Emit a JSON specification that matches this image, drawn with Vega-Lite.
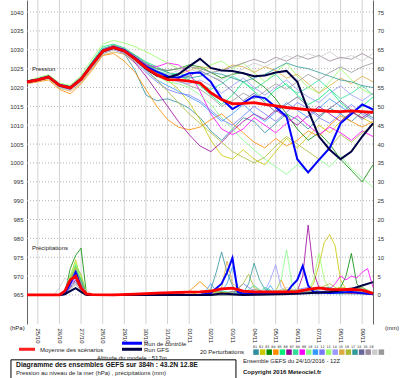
{
"$schema":"https://vega.github.io/schema/vega-lite/v6.json",
"width":346,"height":324,
"autosize":{"type":"none"},
"padding":{"left":27,"top":0,"right":27,"bottom":54},
"background":"white",
"config":{"view":{"stroke":null},"font":"Liberation Sans","text":{"font":"Liberation Sans"},
"axisX":{"labelAngle":90,"labelAlign":"left","labelBaseline":"middle","labelFontSize":6,"labelColor":"#222","labelPadding":4,"labelOverlap":false,"labelBound":false,"labelFlush":false,"ticks":false,"domain":false,"grid":false,"title":null},
"axisY":{"labelFontSize":6,"labelColor":"#333","labelPadding":4,"labelOverlap":false,"labelBound":false,"labelFlush":false,"ticks":false,"domain":true,"domainColor":"#666","title":null,"grid":false}},
"datasets":{
"gx":[{"g":12},{"g":36},{"g":60},{"g":84},{"g":108},{"g":132},{"g":156},{"g":180},{"g":204},{"g":228},{"g":252},{"g":276},{"g":300},{"g":324},{"g":348},{"g":372}],
"gy":[{"v":965},{"v":970},{"v":975},{"v":980},{"v":985},{"v":990},{"v":995},{"v":1000},{"v":1005},{"v":1010},{"v":1015},{"v":1020},{"v":1025},{"v":1030},{"v":1035},{"v":1040}],
"pres":[
{"s":"01","h":0,"p":1021.2},{"s":"01","h":12,"p":1022.3},{"s":"01","h":24,"p":1022.5},{"s":"01","h":36,"p":1020.0},{"s":"01","h":48,"p":1019.5},{"s":"01","h":60,"p":1022.5},{"s":"01","h":72,"p":1026.5},{"s":"01","h":84,"p":1030.0},{"s":"01","h":96,"p":1031.0},{"s":"01","h":108,"p":1029.0},{"s":"01","h":120,"p":1024.5},{"s":"01","h":132,"p":1018.0},{"s":"01","h":144,"p":1016.5},{"s":"01","h":156,"p":1017.0},{"s":"01","h":168,"p":1016.0},{"s":"01","h":180,"p":1014.5},{"s":"01","h":192,"p":1012.0},{"s":"01","h":204,"p":1008.5},{"s":"01","h":216,"p":1006.0},{"s":"01","h":228,"p":1009.0},{"s":"01","h":240,"p":1012.0},{"s":"01","h":252,"p":1011.0},{"s":"01","h":264,"p":1008.0},{"s":"01","h":276,"p":1010.5},{"s":"01","h":288,"p":1013.0},{"s":"01","h":300,"p":1011.5},{"s":"01","h":312,"p":1009.0},{"s":"01","h":324,"p":1012.0},{"s":"01","h":336,"p":1014.5},{"s":"01","h":348,"p":1013.0},{"s":"01","h":360,"p":1011.0},{"s":"01","h":372,"p":1013.5},{"s":"01","h":384,"p":1012.0},
{"s":"02","h":0,"p":1021.8},{"s":"02","h":12,"p":1021.7},{"s":"02","h":24,"p":1022.6},{"s":"02","h":36,"p":1020.9},{"s":"02","h":48,"p":1020.3},{"s":"02","h":60,"p":1021.8},{"s":"02","h":72,"p":1025.4},{"s":"02","h":84,"p":1029.0},{"s":"02","h":96,"p":1030.0},{"s":"02","h":108,"p":1029.5},{"s":"02","h":120,"p":1027.9},{"s":"02","h":132,"p":1026.0},{"s":"02","h":144,"p":1024.0},{"s":"02","h":156,"p":1022.0},{"s":"02","h":168,"p":1019.5},{"s":"02","h":180,"p":1016.0},{"s":"02","h":192,"p":1011.5},{"s":"02","h":204,"p":1006.0},{"s":"02","h":216,"p":1002.0},{"s":"02","h":228,"p":1001.0},{"s":"02","h":240,"p":1003.5},{"s":"02","h":252,"p":1001.0},{"s":"02","h":264,"p":999.5},{"s":"02","h":276,"p":1003.0},{"s":"02","h":288,"p":1006.5},{"s":"02","h":300,"p":1004.0},{"s":"02","h":312,"p":1007.0},{"s":"02","h":324,"p":1010.0},{"s":"02","h":336,"p":1008.0},{"s":"02","h":348,"p":1011.0},{"s":"02","h":360,"p":1013.5},{"s":"02","h":372,"p":1012.0},{"s":"02","h":384,"p":1010.5},
{"s":"03","h":0,"p":1021.4},{"s":"03","h":12,"p":1022.1},{"s":"03","h":24,"p":1023.0},{"s":"03","h":36,"p":1020.4},{"s":"03","h":48,"p":1019.7},{"s":"03","h":60,"p":1022.0},{"s":"03","h":72,"p":1026.2},{"s":"03","h":84,"p":1030.2},{"s":"03","h":96,"p":1031.2},{"s":"03","h":108,"p":1030.0},{"s":"03","h":120,"p":1028.0},{"s":"03","h":132,"p":1026.0},{"s":"03","h":144,"p":1025.0},{"s":"03","h":156,"p":1024.5},{"s":"03","h":168,"p":1025.0},{"s":"03","h":180,"p":1026.0},{"s":"03","h":192,"p":1025.5},{"s":"03","h":204,"p":1024.0},{"s":"03","h":216,"p":1022.5},{"s":"03","h":228,"p":1023.5},{"s":"03","h":240,"p":1024.0},{"s":"03","h":252,"p":1022.0},{"s":"03","h":264,"p":1020.0},{"s":"03","h":276,"p":1017.0},{"s":"03","h":288,"p":1013.0},{"s":"03","h":300,"p":1009.0},{"s":"03","h":312,"p":1006.0},{"s":"03","h":324,"p":1008.0},{"s":"03","h":336,"p":1005.0},{"s":"03","h":348,"p":1001.0},{"s":"03","h":360,"p":998.0},{"s":"03","h":372,"p":995.0},{"s":"03","h":384,"p":999.5},
{"s":"04","h":0,"p":1021.0},{"s":"04","h":12,"p":1021.5},{"s":"04","h":24,"p":1022.0},{"s":"04","h":36,"p":1019.5},{"s":"04","h":48,"p":1018.3},{"s":"04","h":60,"p":1021.0},{"s":"04","h":72,"p":1024.5},{"s":"04","h":84,"p":1028.5},{"s":"04","h":96,"p":1029.0},{"s":"04","h":108,"p":1027.0},{"s":"04","h":120,"p":1024.0},{"s":"04","h":132,"p":1019.5},{"s":"04","h":144,"p":1015.0},{"s":"04","h":156,"p":1011.5},{"s":"04","h":168,"p":1009.5},{"s":"04","h":180,"p":1008.8},{"s":"04","h":192,"p":1009.5},{"s":"04","h":204,"p":1011.5},{"s":"04","h":216,"p":1013.0},{"s":"04","h":228,"p":1010.5},{"s":"04","h":240,"p":1008.0},{"s":"04","h":252,"p":1005.5},{"s":"04","h":264,"p":1004.0},{"s":"04","h":276,"p":1006.5},{"s":"04","h":288,"p":1004.5},{"s":"04","h":300,"p":1006.0},{"s":"04","h":312,"p":1008.5},{"s":"04","h":324,"p":1007.0},{"s":"04","h":336,"p":1010.0},{"s":"04","h":348,"p":1012.5},{"s":"04","h":360,"p":1011.0},{"s":"04","h":372,"p":1009.5},{"s":"04","h":384,"p":1011.0},
{"s":"05","h":0,"p":1021.6},{"s":"05","h":12,"p":1022.4},{"s":"05","h":24,"p":1023.2},{"s":"05","h":36,"p":1020.8},{"s":"05","h":48,"p":1020.2},{"s":"05","h":60,"p":1022.6},{"s":"05","h":72,"p":1026.8},{"s":"05","h":84,"p":1030.8},{"s":"05","h":96,"p":1031.5},{"s":"05","h":108,"p":1030.5},{"s":"05","h":120,"p":1028.6},{"s":"05","h":132,"p":1026.8},{"s":"05","h":144,"p":1025.5},{"s":"05","h":156,"p":1024.0},{"s":"05","h":168,"p":1023.0},{"s":"05","h":180,"p":1022.0},{"s":"05","h":192,"p":1020.5},{"s":"05","h":204,"p":1018.0},{"s":"05","h":216,"p":1015.5},{"s":"05","h":228,"p":1018.0},{"s":"05","h":240,"p":1021.5},{"s":"05","h":252,"p":1019.0},{"s":"05","h":264,"p":1016.5},{"s":"05","h":276,"p":1019.5},{"s":"05","h":288,"p":1021.0},{"s":"05","h":300,"p":1018.0},{"s":"05","h":312,"p":1015.5},{"s":"05","h":324,"p":1017.0},{"s":"05","h":336,"p":1019.5},{"s":"05","h":348,"p":1016.0},{"s":"05","h":360,"p":1013.5},{"s":"05","h":372,"p":1015.0},{"s":"05","h":384,"p":1017.5},
{"s":"06","h":0,"p":1021.3},{"s":"06","h":12,"p":1021.9},{"s":"06","h":24,"p":1022.7},{"s":"06","h":36,"p":1020.5},{"s":"06","h":48,"p":1019.8},{"s":"06","h":60,"p":1022.0},{"s":"06","h":72,"p":1025.8},{"s":"06","h":84,"p":1029.5},{"s":"06","h":96,"p":1030.2},{"s":"06","h":108,"p":1029.0},{"s":"06","h":120,"p":1026.5},{"s":"06","h":132,"p":1023.0},{"s":"06","h":144,"p":1019.0},{"s":"06","h":156,"p":1015.0},{"s":"06","h":168,"p":1011.0},{"s":"06","h":180,"p":1007.5},{"s":"06","h":192,"p":1004.5},{"s":"06","h":204,"p":1003.0},{"s":"06","h":216,"p":1005.5},{"s":"06","h":228,"p":1008.5},{"s":"06","h":240,"p":1011.0},{"s":"06","h":252,"p":1013.0},{"s":"06","h":264,"p":1011.5},{"s":"06","h":276,"p":1014.0},{"s":"06","h":288,"p":1012.0},{"s":"06","h":300,"p":1010.0},{"s":"06","h":312,"p":1012.5},{"s":"06","h":324,"p":1015.0},{"s":"06","h":336,"p":1013.0},{"s":"06","h":348,"p":1011.0},{"s":"06","h":360,"p":1013.5},{"s":"06","h":372,"p":1012.0},{"s":"06","h":384,"p":1014.0},
{"s":"07","h":0,"p":1021.7},{"s":"07","h":12,"p":1022.2},{"s":"07","h":24,"p":1023.0},{"s":"07","h":36,"p":1020.9},{"s":"07","h":48,"p":1020.4},{"s":"07","h":60,"p":1022.8},{"s":"07","h":72,"p":1026.6},{"s":"07","h":84,"p":1030.4},{"s":"07","h":96,"p":1031.0},{"s":"07","h":108,"p":1030.2},{"s":"07","h":120,"p":1028.2},{"s":"07","h":132,"p":1026.2},{"s":"07","h":144,"p":1024.5},{"s":"07","h":156,"p":1023.5},{"s":"07","h":168,"p":1023.8},{"s":"07","h":180,"p":1023.0},{"s":"07","h":192,"p":1021.0},{"s":"07","h":204,"p":1019.5},{"s":"07","h":216,"p":1021.0},{"s":"07","h":228,"p":1023.0},{"s":"07","h":240,"p":1021.5},{"s":"07","h":252,"p":1019.5},{"s":"07","h":264,"p":1021.5},{"s":"07","h":276,"p":1023.5},{"s":"07","h":288,"p":1020.5},{"s":"07","h":300,"p":1018.5},{"s":"07","h":312,"p":1020.0},{"s":"07","h":324,"p":1022.0},{"s":"07","h":336,"p":1019.5},{"s":"07","h":348,"p":1017.0},{"s":"07","h":360,"p":1018.5},{"s":"07","h":372,"p":1020.5},{"s":"07","h":384,"p":1018.0},
{"s":"08","h":0,"p":1021.5},{"s":"08","h":12,"p":1022.0},{"s":"08","h":24,"p":1022.9},{"s":"08","h":36,"p":1020.7},{"s":"08","h":48,"p":1020.0},{"s":"08","h":60,"p":1022.3},{"s":"08","h":72,"p":1026.3},{"s":"08","h":84,"p":1030.0},{"s":"08","h":96,"p":1031.0},{"s":"08","h":108,"p":1030.0},{"s":"08","h":120,"p":1028.0},{"s":"08","h":132,"p":1026.0},{"s":"08","h":144,"p":1025.5},{"s":"08","h":156,"p":1026.5},{"s":"08","h":168,"p":1026.0},{"s":"08","h":180,"p":1024.0},{"s":"08","h":192,"p":1019.0},{"s":"08","h":204,"p":1013.0},{"s":"08","h":216,"p":1009.0},{"s":"08","h":228,"p":1007.5},{"s":"08","h":240,"p":1009.0},{"s":"08","h":252,"p":1012.0},{"s":"08","h":264,"p":1010.0},{"s":"08","h":276,"p":1008.0},{"s":"08","h":288,"p":1010.5},{"s":"08","h":300,"p":1012.5},{"s":"08","h":312,"p":1010.0},{"s":"08","h":324,"p":1007.5},{"s":"08","h":336,"p":1009.5},{"s":"08","h":348,"p":1008.0},{"s":"08","h":360,"p":1006.0},{"s":"08","h":372,"p":1008.5},{"s":"08","h":384,"p":1007.0},
{"s":"09","h":0,"p":1021.4},{"s":"09","h":12,"p":1022.0},{"s":"09","h":24,"p":1022.6},{"s":"09","h":36,"p":1020.3},{"s":"09","h":48,"p":1019.6},{"s":"09","h":60,"p":1021.9},{"s":"09","h":72,"p":1025.6},{"s":"09","h":84,"p":1029.4},{"s":"09","h":96,"p":1030.4},{"s":"09","h":108,"p":1029.6},{"s":"09","h":120,"p":1027.5},{"s":"09","h":132,"p":1025.0},{"s":"09","h":144,"p":1023.0},{"s":"09","h":156,"p":1021.5},{"s":"09","h":168,"p":1021.0},{"s":"09","h":180,"p":1020.0},{"s":"09","h":192,"p":1018.0},{"s":"09","h":204,"p":1015.5},{"s":"09","h":216,"p":1012.0},{"s":"09","h":228,"p":1009.0},{"s":"09","h":240,"p":1006.0},{"s":"09","h":252,"p":1003.5},{"s":"09","h":264,"p":1001.0},{"s":"09","h":276,"p":999.0},{"s":"09","h":288,"p":997.0},{"s":"09","h":300,"p":999.5},{"s":"09","h":312,"p":997.5},{"s":"09","h":324,"p":1001.0},{"s":"09","h":336,"p":999.0},{"s":"09","h":348,"p":1002.0},{"s":"09","h":360,"p":998.5},{"s":"09","h":372,"p":996.0},{"s":"09","h":384,"p":993.5},
{"s":"10","h":0,"p":1021.6},{"s":"10","h":12,"p":1022.1},{"s":"10","h":24,"p":1022.8},{"s":"10","h":36,"p":1020.6},{"s":"10","h":48,"p":1019.9},{"s":"10","h":60,"p":1022.1},{"s":"10","h":72,"p":1025.9},{"s":"10","h":84,"p":1029.7},{"s":"10","h":96,"p":1030.7},{"s":"10","h":108,"p":1029.8},{"s":"10","h":120,"p":1027.4},{"s":"10","h":132,"p":1024.5},{"s":"10","h":144,"p":1022.0},{"s":"10","h":156,"p":1020.5},{"s":"10","h":168,"p":1019.0},{"s":"10","h":180,"p":1017.5},{"s":"10","h":192,"p":1016.0},{"s":"10","h":204,"p":1013.5},{"s":"10","h":216,"p":1011.0},{"s":"10","h":228,"p":1013.0},{"s":"10","h":240,"p":1015.5},{"s":"10","h":252,"p":1013.0},{"s":"10","h":264,"p":1011.0},{"s":"10","h":276,"p":1013.5},{"s":"10","h":288,"p":1016.0},{"s":"10","h":300,"p":1014.0},{"s":"10","h":312,"p":1012.0},{"s":"10","h":324,"p":1014.5},{"s":"10","h":336,"p":1017.0},{"s":"10","h":348,"p":1015.0},{"s":"10","h":360,"p":1013.0},{"s":"10","h":372,"p":1015.5},{"s":"10","h":384,"p":1014.0},
{"s":"11","h":0,"p":1021.2},{"s":"11","h":12,"p":1021.8},{"s":"11","h":24,"p":1022.5},{"s":"11","h":36,"p":1020.2},{"s":"11","h":48,"p":1019.4},{"s":"11","h":60,"p":1021.6},{"s":"11","h":72,"p":1025.2},{"s":"11","h":84,"p":1029.0},{"s":"11","h":96,"p":1030.0},{"s":"11","h":108,"p":1029.0},{"s":"11","h":120,"p":1026.8},{"s":"11","h":132,"p":1024.0},{"s":"11","h":144,"p":1021.5},{"s":"11","h":156,"p":1019.5},{"s":"11","h":168,"p":1018.5},{"s":"11","h":180,"p":1018.0},{"s":"11","h":192,"p":1016.5},{"s":"11","h":204,"p":1014.0},{"s":"11","h":216,"p":1011.5},{"s":"11","h":228,"p":1010.0},{"s":"11","h":240,"p":1012.5},{"s":"11","h":252,"p":1015.0},{"s":"11","h":264,"p":1013.0},{"s":"11","h":276,"p":1011.0},{"s":"11","h":288,"p":1013.5},{"s":"11","h":300,"p":1016.0},{"s":"11","h":312,"p":1014.5},{"s":"11","h":324,"p":1012.0},{"s":"11","h":336,"p":1010.5},{"s":"11","h":348,"p":1013.0},{"s":"11","h":360,"p":1015.5},{"s":"11","h":372,"p":1013.0},{"s":"11","h":384,"p":1011.5},
{"s":"12","h":0,"p":1021.8},{"s":"12","h":12,"p":1022.6},{"s":"12","h":24,"p":1023.4},{"s":"12","h":36,"p":1021.2},{"s":"12","h":48,"p":1020.6},{"s":"12","h":60,"p":1023.2},{"s":"12","h":72,"p":1027.5},{"s":"12","h":84,"p":1031.5},{"s":"12","h":96,"p":1032.5},{"s":"12","h":108,"p":1031.8},{"s":"12","h":120,"p":1030.8},{"s":"12","h":132,"p":1029.5},{"s":"12","h":144,"p":1028.0},{"s":"12","h":156,"p":1026.5},{"s":"12","h":168,"p":1025.0},{"s":"12","h":180,"p":1025.8},{"s":"12","h":192,"p":1024.5},{"s":"12","h":204,"p":1026.0},{"s":"12","h":216,"p":1027.0},{"s":"12","h":228,"p":1025.0},{"s":"12","h":240,"p":1026.5},{"s":"12","h":252,"p":1024.0},{"s":"12","h":264,"p":1021.5},{"s":"12","h":276,"p":1024.0},{"s":"12","h":288,"p":1026.5},{"s":"12","h":300,"p":1023.0},{"s":"12","h":312,"p":1020.0},{"s":"12","h":324,"p":1018.5},{"s":"12","h":336,"p":1021.5},{"s":"12","h":348,"p":1025.0},{"s":"12","h":360,"p":1022.0},{"s":"12","h":372,"p":1019.5},{"s":"12","h":384,"p":1018.0},
{"s":"13","h":0,"p":1021.5},{"s":"13","h":12,"p":1022.2},{"s":"13","h":24,"p":1022.9},{"s":"13","h":36,"p":1020.8},{"s":"13","h":48,"p":1020.1},{"s":"13","h":60,"p":1022.4},{"s":"13","h":72,"p":1026.1},{"s":"13","h":84,"p":1029.8},{"s":"13","h":96,"p":1030.8},{"s":"13","h":108,"p":1029.9},{"s":"13","h":120,"p":1027.9},{"s":"13","h":132,"p":1025.5},{"s":"13","h":144,"p":1023.5},{"s":"13","h":156,"p":1022.5},{"s":"13","h":168,"p":1021.5},{"s":"13","h":180,"p":1021.0},{"s":"13","h":192,"p":1022.0},{"s":"13","h":204,"p":1020.5},{"s":"13","h":216,"p":1018.5},{"s":"13","h":228,"p":1020.5},{"s":"13","h":240,"p":1022.5},{"s":"13","h":252,"p":1020.0},{"s":"13","h":264,"p":1018.0},{"s":"13","h":276,"p":1020.0},{"s":"13","h":288,"p":1022.0},{"s":"13","h":300,"p":1019.5},{"s":"13","h":312,"p":1017.5},{"s":"13","h":324,"p":1016.0},{"s":"13","h":336,"p":1018.5},{"s":"13","h":348,"p":1020.5},{"s":"13","h":360,"p":1018.0},{"s":"13","h":372,"p":1016.5},{"s":"13","h":384,"p":1018.5},
{"s":"14","h":0,"p":1021.3},{"s":"14","h":12,"p":1021.6},{"s":"14","h":24,"p":1022.3},{"s":"14","h":36,"p":1019.8},{"s":"14","h":48,"p":1019.0},{"s":"14","h":60,"p":1021.3},{"s":"14","h":72,"p":1024.9},{"s":"14","h":84,"p":1028.6},{"s":"14","h":96,"p":1029.4},{"s":"14","h":108,"p":1028.8},{"s":"14","h":120,"p":1026.9},{"s":"14","h":132,"p":1025.0},{"s":"14","h":144,"p":1023.5},{"s":"14","h":156,"p":1022.8},{"s":"14","h":168,"p":1023.5},{"s":"14","h":180,"p":1024.5},{"s":"14","h":192,"p":1025.5},{"s":"14","h":204,"p":1025.0},{"s":"14","h":216,"p":1024.5},{"s":"14","h":228,"p":1026.0},{"s":"14","h":240,"p":1025.5},{"s":"14","h":252,"p":1024.0},{"s":"14","h":264,"p":1025.5},{"s":"14","h":276,"p":1024.5},{"s":"14","h":288,"p":1022.5},{"s":"14","h":300,"p":1023.5},{"s":"14","h":312,"p":1021.0},{"s":"14","h":324,"p":1018.5},{"s":"14","h":336,"p":1020.5},{"s":"14","h":348,"p":1022.5},{"s":"14","h":360,"p":1021.0},{"s":"14","h":372,"p":1023.0},{"s":"14","h":384,"p":1021.5},
{"s":"15","h":0,"p":1021.6},{"s":"15","h":12,"p":1022.3},{"s":"15","h":24,"p":1023.1},{"s":"15","h":36,"p":1020.7},{"s":"15","h":48,"p":1020.0},{"s":"15","h":60,"p":1022.4},{"s":"15","h":72,"p":1026.2},{"s":"15","h":84,"p":1029.9},{"s":"15","h":96,"p":1030.9},{"s":"15","h":108,"p":1029.9},{"s":"15","h":120,"p":1027.6},{"s":"15","h":132,"p":1024.8},{"s":"15","h":144,"p":1022.0},{"s":"15","h":156,"p":1019.0},{"s":"15","h":168,"p":1016.0},{"s":"15","h":180,"p":1013.0},{"s":"15","h":192,"p":1010.5},{"s":"15","h":204,"p":1008.0},{"s":"15","h":216,"p":1005.5},{"s":"15","h":228,"p":1003.0},{"s":"15","h":240,"p":1001.5},{"s":"15","h":252,"p":1000.0},{"s":"15","h":264,"p":1001.5},{"s":"15","h":276,"p":1004.5},{"s":"15","h":288,"p":1007.0},{"s":"15","h":300,"p":1005.0},{"s":"15","h":312,"p":1003.0},{"s":"15","h":324,"p":1001.0},{"s":"15","h":336,"p":1004.0},{"s":"15","h":348,"p":1007.5},{"s":"15","h":360,"p":1005.5},{"s":"15","h":372,"p":1008.0},{"s":"15","h":384,"p":1010.0},
{"s":"16","h":0,"p":1021.4},{"s":"16","h":12,"p":1022.0},{"s":"16","h":24,"p":1022.8},{"s":"16","h":36,"p":1020.5},{"s":"16","h":48,"p":1019.8},{"s":"16","h":60,"p":1022.0},{"s":"16","h":72,"p":1026.0},{"s":"16","h":84,"p":1029.8},{"s":"16","h":96,"p":1030.8},{"s":"16","h":108,"p":1030.2},{"s":"16","h":120,"p":1028.5},{"s":"16","h":132,"p":1026.5},{"s":"16","h":144,"p":1025.0},{"s":"16","h":156,"p":1024.0},{"s":"16","h":168,"p":1023.0},{"s":"16","h":180,"p":1022.5},{"s":"16","h":192,"p":1023.0},{"s":"16","h":204,"p":1024.0},{"s":"16","h":216,"p":1023.5},{"s":"16","h":228,"p":1022.5},{"s":"16","h":240,"p":1021.5},{"s":"16","h":252,"p":1022.5},{"s":"16","h":264,"p":1023.5},{"s":"16","h":276,"p":1025.0},{"s":"16","h":288,"p":1026.5},{"s":"16","h":300,"p":1025.5},{"s":"16","h":312,"p":1025.0},{"s":"16","h":324,"p":1024.0},{"s":"16","h":336,"p":1023.0},{"s":"16","h":348,"p":1022.0},{"s":"16","h":360,"p":1021.5},{"s":"16","h":372,"p":1020.5},{"s":"16","h":384,"p":1020.0},
{"s":"17","h":0,"p":1021.5},{"s":"17","h":12,"p":1022.1},{"s":"17","h":24,"p":1022.7},{"s":"17","h":36,"p":1020.6},{"s":"17","h":48,"p":1020.0},{"s":"17","h":60,"p":1022.2},{"s":"17","h":72,"p":1026.0},{"s":"17","h":84,"p":1029.6},{"s":"17","h":96,"p":1030.5},{"s":"17","h":108,"p":1029.6},{"s":"17","h":120,"p":1027.5},{"s":"17","h":132,"p":1025.5},{"s":"17","h":144,"p":1024.0},{"s":"17","h":156,"p":1023.0},{"s":"17","h":168,"p":1022.5},{"s":"17","h":180,"p":1023.0},{"s":"17","h":192,"p":1024.5},{"s":"17","h":204,"p":1023.0},{"s":"17","h":216,"p":1021.5},{"s":"17","h":228,"p":1019.0},{"s":"17","h":240,"p":1016.5},{"s":"17","h":252,"p":1018.5},{"s":"17","h":264,"p":1016.0},{"s":"17","h":276,"p":1013.5},{"s":"17","h":288,"p":1015.5},{"s":"17","h":300,"p":1017.5},{"s":"17","h":312,"p":1015.0},{"s":"17","h":324,"p":1012.5},{"s":"17","h":336,"p":1014.5},{"s":"17","h":348,"p":1016.5},{"s":"17","h":360,"p":1014.0},{"s":"17","h":372,"p":1011.5},{"s":"17","h":384,"p":1013.5},
{"s":"18","h":0,"p":1021.7},{"s":"18","h":12,"p":1022.3},{"s":"18","h":24,"p":1023.0},{"s":"18","h":36,"p":1020.9},{"s":"18","h":48,"p":1020.3},{"s":"18","h":60,"p":1022.5},{"s":"18","h":72,"p":1026.4},{"s":"18","h":84,"p":1030.2},{"s":"18","h":96,"p":1031.2},{"s":"18","h":108,"p":1030.3},{"s":"18","h":120,"p":1028.3},{"s":"18","h":132,"p":1026.3},{"s":"18","h":144,"p":1025.0},{"s":"18","h":156,"p":1024.5},{"s":"18","h":168,"p":1025.0},{"s":"18","h":180,"p":1025.5},{"s":"18","h":192,"p":1025.0},{"s":"18","h":204,"p":1024.0},{"s":"18","h":216,"p":1024.5},{"s":"18","h":228,"p":1025.5},{"s":"18","h":240,"p":1026.5},{"s":"18","h":252,"p":1027.5},{"s":"18","h":264,"p":1026.5},{"s":"18","h":276,"p":1028.0},{"s":"18","h":288,"p":1027.0},{"s":"18","h":300,"p":1028.5},{"s":"18","h":312,"p":1027.5},{"s":"18","h":324,"p":1028.5},{"s":"18","h":336,"p":1027.0},{"s":"18","h":348,"p":1028.0},{"s":"18","h":360,"p":1027.5},{"s":"18","h":372,"p":1029.0},{"s":"18","h":384,"p":1027.5},
{"s":"19","h":0,"p":1021.2},{"s":"19","h":12,"p":1021.8},{"s":"19","h":24,"p":1022.4},{"s":"19","h":36,"p":1020.0},{"s":"19","h":48,"p":1019.2},{"s":"19","h":60,"p":1021.5},{"s":"19","h":72,"p":1025.5},{"s":"19","h":84,"p":1029.2},{"s":"19","h":96,"p":1030.0},{"s":"19","h":108,"p":1029.2},{"s":"19","h":120,"p":1027.0},{"s":"19","h":132,"p":1025.0},{"s":"19","h":144,"p":1024.0},{"s":"19","h":156,"p":1023.5},{"s":"19","h":168,"p":1024.5},{"s":"19","h":180,"p":1025.0},{"s":"19","h":192,"p":1024.0},{"s":"19","h":204,"p":1023.0},{"s":"19","h":216,"p":1022.0},{"s":"19","h":228,"p":1023.5},{"s":"19","h":240,"p":1025.0},{"s":"19","h":252,"p":1026.5},{"s":"19","h":264,"p":1025.5},{"s":"19","h":276,"p":1027.0},{"s":"19","h":288,"p":1028.5},{"s":"19","h":300,"p":1027.5},{"s":"19","h":312,"p":1029.0},{"s":"19","h":324,"p":1028.0},{"s":"19","h":336,"p":1029.5},{"s":"19","h":348,"p":1027.5},{"s":"19","h":360,"p":1028.5},{"s":"19","h":372,"p":1027.0},{"s":"19","h":384,"p":1029.0},
{"s":"20","h":0,"p":1021.4},{"s":"20","h":12,"p":1021.9},{"s":"20","h":24,"p":1022.6},{"s":"20","h":36,"p":1020.4},{"s":"20","h":48,"p":1019.7},{"s":"20","h":60,"p":1021.9},{"s":"20","h":72,"p":1025.7},{"s":"20","h":84,"p":1029.4},{"s":"20","h":96,"p":1030.3},{"s":"20","h":108,"p":1029.4},{"s":"20","h":120,"p":1027.3},{"s":"20","h":132,"p":1025.3},{"s":"20","h":144,"p":1023.8},{"s":"20","h":156,"p":1022.8},{"s":"20","h":168,"p":1021.8},{"s":"20","h":180,"p":1020.5},{"s":"20","h":192,"p":1019.5},{"s":"20","h":204,"p":1017.5},{"s":"20","h":216,"p":1015.0},{"s":"20","h":228,"p":1016.5},{"s":"20","h":240,"p":1018.5},{"s":"20","h":252,"p":1017.0},{"s":"20","h":264,"p":1019.0},{"s":"20","h":276,"p":1021.0},{"s":"20","h":288,"p":1019.5},{"s":"20","h":300,"p":1021.5},{"s":"20","h":312,"p":1023.5},{"s":"20","h":324,"p":1022.0},{"s":"20","h":336,"p":1024.0},{"s":"20","h":348,"p":1025.5},{"s":"20","h":360,"p":1024.0},{"s":"20","h":372,"p":1025.5},{"s":"20","h":384,"p":1026.5},
{"s":"C","h":0,"p":1021.6},{"s":"C","h":12,"p":1022.1},{"s":"C","h":24,"p":1022.9},{"s":"C","h":36,"p":1020.7},{"s":"C","h":48,"p":1020.0},{"s":"C","h":60,"p":1022.3},{"s":"C","h":72,"p":1026.2},{"s":"C","h":84,"p":1029.8},{"s":"C","h":96,"p":1030.7},{"s":"C","h":108,"p":1029.9},{"s":"C","h":120,"p":1027.8},{"s":"C","h":132,"p":1025.6},{"s":"C","h":144,"p":1024.2},{"s":"C","h":156,"p":1023.0},{"s":"C","h":168,"p":1022.6},{"s":"C","h":180,"p":1023.8},{"s":"C","h":192,"p":1024.0},{"s":"C","h":204,"p":1021.5},{"s":"C","h":216,"p":1017.0},{"s":"C","h":228,"p":1014.3},{"s":"C","h":240,"p":1015.9},{"s":"C","h":252,"p":1017.7},{"s":"C","h":264,"p":1017.2},{"s":"C","h":276,"p":1014.8},{"s":"C","h":288,"p":1012.3},{"s":"C","h":300,"p":1001.0},{"s":"C","h":312,"p":997.5},{"s":"C","h":324,"p":1000.8},{"s":"C","h":336,"p":1004.0},{"s":"C","h":348,"p":1010.5},{"s":"C","h":360,"p":1013.0},{"s":"C","h":372,"p":1015.5},{"s":"C","h":384,"p":1014.2},
{"s":"G","h":0,"p":1021.4},{"s":"G","h":12,"p":1022.0},{"s":"G","h":24,"p":1022.7},{"s":"G","h":36,"p":1020.5},{"s":"G","h":48,"p":1019.8},{"s":"G","h":60,"p":1022.1},{"s":"G","h":72,"p":1025.9},{"s":"G","h":84,"p":1029.5},{"s":"G","h":96,"p":1030.5},{"s":"G","h":108,"p":1029.6},{"s":"G","h":120,"p":1027.5},{"s":"G","h":132,"p":1025.0},{"s":"G","h":144,"p":1023.2},{"s":"G","h":156,"p":1022.6},{"s":"G","h":168,"p":1023.5},{"s":"G","h":180,"p":1025.6},{"s":"G","h":192,"p":1027.6},{"s":"G","h":204,"p":1025.2},{"s":"G","h":216,"p":1024.5},{"s":"G","h":228,"p":1024.4},{"s":"G","h":240,"p":1023.8},{"s":"G","h":252,"p":1023.0},{"s":"G","h":264,"p":1023.2},{"s":"G","h":276,"p":1024.0},{"s":"G","h":288,"p":1024.4},{"s":"G","h":300,"p":1021.5},{"s":"G","h":312,"p":1014.0},{"s":"G","h":324,"p":1007.0},{"s":"G","h":336,"p":1003.5},{"s":"G","h":348,"p":1001.0},{"s":"G","h":360,"p":1003.0},{"s":"G","h":372,"p":1007.0},{"s":"G","h":384,"p":1010.5},
{"s":"M","h":0,"p":1021.5},{"s":"M","h":12,"p":1022.0},{"s":"M","h":24,"p":1022.8},{"s":"M","h":36,"p":1020.6},{"s":"M","h":48,"p":1019.9},{"s":"M","h":60,"p":1022.2},{"s":"M","h":72,"p":1026.0},{"s":"M","h":84,"p":1029.6},{"s":"M","h":96,"p":1030.6},{"s":"M","h":108,"p":1029.7},{"s":"M","h":120,"p":1027.6},{"s":"M","h":132,"p":1025.2},{"s":"M","h":144,"p":1023.4},{"s":"M","h":156,"p":1022.1},{"s":"M","h":168,"p":1022.0},{"s":"M","h":180,"p":1021.7},{"s":"M","h":192,"p":1021.2},{"s":"M","h":204,"p":1018.6},{"s":"M","h":216,"p":1016.8},{"s":"M","h":228,"p":1015.7},{"s":"M","h":240,"p":1015.8},{"s":"M","h":252,"p":1016.0},{"s":"M","h":264,"p":1015.5},{"s":"M","h":276,"p":1015.1},{"s":"M","h":288,"p":1014.7},{"s":"M","h":300,"p":1014.4},{"s":"M","h":312,"p":1014.1},{"s":"M","h":324,"p":1013.9},{"s":"M","h":336,"p":1013.7},{"s":"M","h":348,"p":1013.6},{"s":"M","h":360,"p":1013.8},{"s":"M","h":372,"p":1013.6},{"s":"M","h":384,"p":1013.4}
],
"prec":[
{"s":"01","h":0,"r":0},{"s":"01","h":36,"r":0},{"s":"01","h":42,"r":0.5},{"s":"01","h":48,"r":4},{"s":"01","h":54,"r":7},{"s":"01","h":60,"r":3},{"s":"01","h":66,"r":0.2},{"s":"01","h":72,"r":0},{"s":"01","h":192,"r":0},{"s":"01","h":204,"r":1.5},{"s":"01","h":210,"r":6},{"s":"01","h":216,"r":11.4},{"s":"01","h":222,"r":6},{"s":"01","h":228,"r":2.5},{"s":"01","h":234,"r":0.5},{"s":"01","h":252,"r":1},{"s":"01","h":264,"r":0.3},{"s":"01","h":300,"r":0.5},{"s":"01","h":384,"r":0.2},
{"s":"02","h":0,"r":0},{"s":"02","h":36,"r":0},{"s":"02","h":42,"r":0.3},{"s":"02","h":48,"r":5},{"s":"02","h":54,"r":9.3},{"s":"02","h":60,"r":4},{"s":"02","h":66,"r":0.3},{"s":"02","h":72,"r":0},{"s":"02","h":180,"r":0},{"s":"02","h":192,"r":0.8},{"s":"02","h":240,"r":0.5},{"s":"02","h":312,"r":1},{"s":"02","h":318,"r":3},{"s":"02","h":324,"r":8},{"s":"02","h":330,"r":14},{"s":"02","h":336,"r":16},{"s":"02","h":342,"r":13},{"s":"02","h":348,"r":4},{"s":"02","h":354,"r":1.5},{"s":"02","h":372,"r":0.5},{"s":"02","h":384,"r":0.3},
{"s":"03","h":0,"r":0},{"s":"03","h":36,"r":0},{"s":"03","h":42,"r":0.5},{"s":"03","h":48,"r":7},{"s":"03","h":54,"r":10.5},{"s":"03","h":60,"r":12.4},{"s":"03","h":66,"r":0.2},{"s":"03","h":72,"r":0},{"s":"03","h":240,"r":0},{"s":"03","h":264,"r":0.8},{"s":"03","h":300,"r":1},{"s":"03","h":336,"r":0.5},{"s":"03","h":348,"r":2},{"s":"03","h":354,"r":5},{"s":"03","h":360,"r":11},{"s":"03","h":366,"r":3},{"s":"03","h":372,"r":1},{"s":"03","h":384,"r":0.5},
{"s":"04","h":0,"r":0},{"s":"04","h":36,"r":0},{"s":"04","h":42,"r":0.2},{"s":"04","h":48,"r":3},{"s":"04","h":54,"r":6},{"s":"04","h":60,"r":2},{"s":"04","h":66,"r":0.1},{"s":"04","h":72,"r":0},{"s":"04","h":168,"r":0},{"s":"04","h":180,"r":1},{"s":"04","h":192,"r":3.5},{"s":"04","h":204,"r":1},{"s":"04","h":216,"r":0.5},{"s":"04","h":264,"r":0.2},{"s":"04","h":276,"r":1},{"s":"04","h":282,"r":4},{"s":"04","h":288,"r":1},{"s":"04","h":336,"r":0.5},{"s":"04","h":384,"r":0.3},
{"s":"05","h":0,"r":0},{"s":"05","h":36,"r":0},{"s":"05","h":42,"r":0.4},{"s":"05","h":48,"r":4.5},{"s":"05","h":54,"r":8},{"s":"05","h":60,"r":3.5},{"s":"05","h":66,"r":0.2},{"s":"05","h":72,"r":0},{"s":"05","h":240,"r":0},{"s":"05","h":258,"r":0.5},{"s":"05","h":264,"r":2},{"s":"05","h":276,"r":0.5},{"s":"05","h":300,"r":1},{"s":"05","h":348,"r":0.3},{"s":"05","h":372,"r":2},{"s":"05","h":384,"r":0.5},
{"s":"06","h":0,"r":0},{"s":"06","h":36,"r":0},{"s":"06","h":42,"r":0.2},{"s":"06","h":48,"r":2},{"s":"06","h":54,"r":4},{"s":"06","h":60,"r":1.5},{"s":"06","h":66,"r":0},{"s":"06","h":156,"r":0},{"s":"06","h":180,"r":0.8},{"s":"06","h":204,"r":0.4},{"s":"06","h":288,"r":0.3},{"s":"06","h":300,"r":1},{"s":"06","h":306,"r":5},{"s":"06","h":312,"r":18.5},{"s":"06","h":318,"r":6},{"s":"06","h":324,"r":2},{"s":"06","h":336,"r":1},{"s":"06","h":360,"r":0.5},{"s":"06","h":384,"r":0.2},
{"s":"07","h":0,"r":0},{"s":"07","h":36,"r":0},{"s":"07","h":42,"r":0.3},{"s":"07","h":48,"r":3.5},{"s":"07","h":54,"r":6.5},{"s":"07","h":60,"r":2.5},{"s":"07","h":66,"r":0.1},{"s":"07","h":72,"r":0},{"s":"07","h":204,"r":0},{"s":"07","h":216,"r":1},{"s":"07","h":240,"r":0.3},{"s":"07","h":252,"r":2.5},{"s":"07","h":264,"r":0.3},{"s":"07","h":312,"r":1.5},{"s":"07","h":336,"r":0.3},{"s":"07","h":360,"r":1},{"s":"07","h":384,"r":0.2},
{"s":"08","h":0,"r":0},{"s":"08","h":36,"r":0},{"s":"08","h":42,"r":0.1},{"s":"08","h":48,"r":2.5},{"s":"08","h":54,"r":5},{"s":"08","h":60,"r":1.5},{"s":"08","h":66,"r":0},{"s":"08","h":240,"r":0},{"s":"08","h":252,"r":0.5},{"s":"08","h":324,"r":0.5},{"s":"08","h":336,"r":1.5},{"s":"08","h":342,"r":3},{"s":"08","h":348,"r":5},{"s":"08","h":354,"r":4},{"s":"08","h":360,"r":5},{"s":"08","h":366,"r":4.5},{"s":"08","h":372,"r":6},{"s":"08","h":378,"r":7},{"s":"08","h":384,"r":2},
{"s":"09","h":0,"r":0},{"s":"09","h":36,"r":0},{"s":"09","h":42,"r":0.4},{"s":"09","h":48,"r":4},{"s":"09","h":54,"r":7.5},{"s":"09","h":60,"r":4.5},{"s":"09","h":66,"r":0.3},{"s":"09","h":72,"r":0},{"s":"09","h":216,"r":0},{"s":"09","h":240,"r":0.8},{"s":"09","h":264,"r":0.5},{"s":"09","h":276,"r":1},{"s":"09","h":282,"r":4},{"s":"09","h":288,"r":12},{"s":"09","h":294,"r":3},{"s":"09","h":300,"r":1},{"s":"09","h":318,"r":0.5},{"s":"09","h":330,"r":2},{"s":"09","h":342,"r":1},{"s":"09","h":360,"r":1},{"s":"09","h":384,"r":0.5},
{"s":"10","h":0,"r":0},{"s":"10","h":36,"r":0},{"s":"10","h":42,"r":0.3},{"s":"10","h":48,"r":3},{"s":"10","h":54,"r":6},{"s":"10","h":60,"r":2.5},{"s":"10","h":66,"r":0.1},{"s":"10","h":72,"r":0},{"s":"10","h":192,"r":0},{"s":"10","h":198,"r":1},{"s":"10","h":204,"r":3},{"s":"10","h":210,"r":1},{"s":"10","h":216,"r":1},{"s":"10","h":222,"r":3},{"s":"10","h":228,"r":7.5},{"s":"10","h":234,"r":2},{"s":"10","h":240,"r":0.5},{"s":"10","h":264,"r":0.5},{"s":"10","h":270,"r":2.5},{"s":"10","h":276,"r":0.5},{"s":"10","h":336,"r":1},{"s":"10","h":372,"r":1.5},{"s":"10","h":384,"r":0.3},
{"s":"11","h":0,"r":0},{"s":"11","h":36,"r":0},{"s":"11","h":42,"r":0.2},{"s":"11","h":48,"r":2.5},{"s":"11","h":54,"r":5.5},{"s":"11","h":60,"r":3},{"s":"11","h":66,"r":0.2},{"s":"11","h":72,"r":0},{"s":"11","h":228,"r":0},{"s":"11","h":240,"r":3},{"s":"11","h":252,"r":1},{"s":"11","h":276,"r":0.3},{"s":"11","h":312,"r":2},{"s":"11","h":330,"r":0.5},{"s":"11","h":348,"r":1.5},{"s":"11","h":384,"r":0.3},
{"s":"12","h":0,"r":0},{"s":"12","h":36,"r":0},{"s":"12","h":42,"r":0.5},{"s":"12","h":48,"r":5},{"s":"12","h":54,"r":8.5},{"s":"12","h":60,"r":5},{"s":"12","h":66,"r":0.3},{"s":"12","h":72,"r":0},{"s":"12","h":264,"r":0},{"s":"12","h":288,"r":0.5},{"s":"12","h":312,"r":1},{"s":"12","h":318,"r":4},{"s":"12","h":324,"r":11},{"s":"12","h":330,"r":4},{"s":"12","h":336,"r":1.5},{"s":"12","h":348,"r":2},{"s":"12","h":372,"r":0.8},{"s":"12","h":384,"r":0.3},
{"s":"13","h":0,"r":0},{"s":"13","h":36,"r":0},{"s":"13","h":42,"r":0.2},{"s":"13","h":48,"r":2},{"s":"13","h":54,"r":4.5},{"s":"13","h":60,"r":2},{"s":"13","h":66,"r":0.1},{"s":"13","h":72,"r":0},{"s":"13","h":192,"r":0},{"s":"13","h":228,"r":0.5},{"s":"13","h":252,"r":0.3},{"s":"13","h":264,"r":1},{"s":"13","h":270,"r":4},{"s":"13","h":276,"r":8},{"s":"13","h":282,"r":2},{"s":"13","h":288,"r":0.5},{"s":"13","h":324,"r":0.3},{"s":"13","h":360,"r":0.8},{"s":"13","h":384,"r":0.2},
{"s":"14","h":0,"r":0},{"s":"14","h":36,"r":0},{"s":"14","h":42,"r":0.3},{"s":"14","h":48,"r":4},{"s":"14","h":54,"r":7},{"s":"14","h":60,"r":3},{"s":"14","h":66,"r":0.2},{"s":"14","h":72,"r":0},{"s":"14","h":204,"r":0},{"s":"14","h":216,"r":2},{"s":"14","h":222,"r":9},{"s":"14","h":228,"r":3},{"s":"14","h":240,"r":1},{"s":"14","h":264,"r":0.3},{"s":"14","h":300,"r":1.5},{"s":"14","h":324,"r":0.5},{"s":"14","h":348,"r":2},{"s":"14","h":384,"r":0.5},
{"s":"15","h":0,"r":0},{"s":"15","h":36,"r":0},{"s":"15","h":42,"r":0.4},{"s":"15","h":48,"r":4.5},{"s":"15","h":54,"r":7.5},{"s":"15","h":60,"r":5.5},{"s":"15","h":66,"r":0.4},{"s":"15","h":72,"r":0},{"s":"15","h":192,"r":0},{"s":"15","h":204,"r":1},{"s":"15","h":228,"r":0.5},{"s":"15","h":240,"r":3},{"s":"15","h":246,"r":5.5},{"s":"15","h":252,"r":2},{"s":"15","h":264,"r":0.5},{"s":"15","h":288,"r":1.5},{"s":"15","h":312,"r":0.5},{"s":"15","h":336,"r":3},{"s":"15","h":348,"r":1},{"s":"15","h":372,"r":2},{"s":"15","h":384,"r":0.5},
{"s":"16","h":0,"r":0},{"s":"16","h":36,"r":0},{"s":"16","h":42,"r":0.3},{"s":"16","h":48,"r":3.5},{"s":"16","h":54,"r":6.5},{"s":"16","h":60,"r":4},{"s":"16","h":66,"r":0.2},{"s":"16","h":72,"r":0},{"s":"16","h":216,"r":0},{"s":"16","h":240,"r":0.5},{"s":"16","h":246,"r":3},{"s":"16","h":252,"r":8.4},{"s":"16","h":258,"r":4},{"s":"16","h":264,"r":1.5},{"s":"16","h":276,"r":0.5},{"s":"16","h":300,"r":1},{"s":"16","h":336,"r":2},{"s":"16","h":348,"r":1},{"s":"16","h":384,"r":0.5},
{"s":"17","h":0,"r":0},{"s":"17","h":36,"r":0},{"s":"17","h":42,"r":0.2},{"s":"17","h":48,"r":2},{"s":"17","h":54,"r":3.5},{"s":"17","h":60,"r":1.5},{"s":"17","h":66,"r":0},{"s":"17","h":216,"r":0},{"s":"17","h":228,"r":1},{"s":"17","h":252,"r":0.2},{"s":"17","h":300,"r":1},{"s":"17","h":324,"r":0.3},{"s":"17","h":336,"r":1.5},{"s":"17","h":384,"r":0.2},
{"s":"18","h":0,"r":0},{"s":"18","h":36,"r":0},{"s":"18","h":42,"r":0.1},{"s":"18","h":48,"r":1.5},{"s":"18","h":54,"r":3},{"s":"18","h":60,"r":1},{"s":"18","h":66,"r":0},{"s":"18","h":240,"r":0},{"s":"18","h":252,"r":1.5},{"s":"18","h":276,"r":0.2},{"s":"18","h":324,"r":2},{"s":"18","h":348,"r":0.5},{"s":"18","h":360,"r":1},{"s":"18","h":384,"r":0.2},
{"s":"19","h":0,"r":0},{"s":"19","h":30,"r":0},{"s":"19","h":36,"r":2},{"s":"19","h":42,"r":4.5},{"s":"19","h":48,"r":3},{"s":"19","h":54,"r":2.5},{"s":"19","h":60,"r":2},{"s":"19","h":66,"r":1.2},{"s":"19","h":72,"r":0.3},{"s":"19","h":84,"r":0},{"s":"19","h":264,"r":0},{"s":"19","h":288,"r":2},{"s":"19","h":312,"r":0.5},{"s":"19","h":336,"r":1.5},{"s":"19","h":384,"r":0.3},
{"s":"20","h":0,"r":0},{"s":"20","h":36,"r":0},{"s":"20","h":42,"r":0.3},{"s":"20","h":48,"r":3},{"s":"20","h":54,"r":5.5},{"s":"20","h":60,"r":2},{"s":"20","h":66,"r":0.1},{"s":"20","h":72,"r":0},{"s":"20","h":288,"r":0},{"s":"20","h":312,"r":1},{"s":"20","h":336,"r":0.3},{"s":"20","h":360,"r":2},{"s":"20","h":384,"r":0.5},
{"s":"C","h":0,"r":0},{"s":"C","h":36,"r":0},{"s":"C","h":42,"r":0.5},{"s":"C","h":48,"r":3},{"s":"C","h":54,"r":6},{"s":"C","h":60,"r":2},{"s":"C","h":66,"r":0.2},{"s":"C","h":72,"r":0},{"s":"C","h":192,"r":0},{"s":"C","h":204,"r":0.5},{"s":"C","h":216,"r":3},{"s":"C","h":222,"r":6},{"s":"C","h":228,"r":9.8},{"s":"C","h":234,"r":0.8},{"s":"C","h":240,"r":0.3},{"s":"C","h":264,"r":0.5},{"s":"C","h":288,"r":0.5},{"s":"C","h":294,"r":2.5},{"s":"C","h":300,"r":4},{"s":"C","h":306,"r":7.7},{"s":"C","h":312,"r":2.5},{"s":"C","h":318,"r":0.8},{"s":"C","h":336,"r":0.5},{"s":"C","h":360,"r":0.8},{"s":"C","h":384,"r":0.2},
{"s":"G","h":0,"r":0},{"s":"G","h":36,"r":0},{"s":"G","h":42,"r":0.2},{"s":"G","h":48,"r":1},{"s":"G","h":54,"r":1.8},{"s":"G","h":60,"r":0.8},{"s":"G","h":66,"r":0},{"s":"G","h":204,"r":0},{"s":"G","h":216,"r":0.4},{"s":"G","h":240,"r":0},{"s":"G","h":300,"r":0.3},{"s":"G","h":336,"r":0.8},{"s":"G","h":360,"r":1.6},{"s":"G","h":372,"r":2.5},{"s":"G","h":384,"r":3.4},
{"s":"M","h":0,"r":0},{"s":"M","h":36,"r":0},{"s":"M","h":42,"r":1.0},{"s":"M","h":48,"r":4.0},{"s":"M","h":54,"r":5.0},{"s":"M","h":60,"r":1.8},{"s":"M","h":66,"r":0.3},{"s":"M","h":72,"r":0.1},{"s":"M","h":96,"r":0},{"s":"M","h":120,"r":0.2},{"s":"M","h":144,"r":0.5},{"s":"M","h":168,"r":0.7},{"s":"M","h":192,"r":0.8},{"s":"M","h":204,"r":1.0},{"s":"M","h":216,"r":1.6},{"s":"M","h":228,"r":1.8},{"s":"M","h":240,"r":1.0},{"s":"M","h":252,"r":0.8},{"s":"M","h":276,"r":0.8},{"s":"M","h":300,"r":0.9},{"s":"M","h":312,"r":1.5},{"s":"M","h":324,"r":1.9},{"s":"M","h":336,"r":1.5},{"s":"M","h":348,"r":1.4},{"s":"M","h":360,"r":1.5},{"s":"M","h":372,"r":1.3},{"s":"M","h":384,"r":0.4}
]
},
"layer":[
{"data":{"name":"gx"},"mark":{"type":"rule","color":"#d2d2d2","strokeWidth":1},"encoding":{"x":{"field":"g","type":"quantitative","scale":{"domain":[0,384],"nice":false,"zero":false},"axis":{"values":[12,36,60,84,108,132,156,180,204,228,252,276,300,324,348,372],"labelExpr":"utcFormat(utc(2016,9,24,12)+datum.value*3600000,'%d/%m')","labelOverlap":false,"grid":false}},"y":{"datum":957.3,"type":"quantitative","scale":{"domain":[957.3,1043.2],"nice":false,"zero":false},"axis":null},"y2":{"datum":1043.2}}},
{"data":{"name":"gy"},"mark":{"type":"rule","color":"#b4b4b4","strokeWidth":1,"strokeDash":[1,2]},"encoding":{"y":{"field":"v","type":"quantitative","scale":{"domain":[957.3,1043.2],"nice":false,"zero":false},"axis":{"orient":"left","format":"d","values":[965,970,975,980,985,990,995,1000,1005,1010,1015,1020,1025,1030,1035,1040],"grid":false,"labelOverlap":false}},"x":{"datum":0,"type":"quantitative","scale":{"domain":[0,384],"nice":false,"zero":false},"axis":{"values":[12,36,60,84,108,132,156,180,204,228,252,276,300,324,348,372],"labelExpr":"utcFormat(utc(2016,9,24,12)+datum.value*3600000,'%d/%m')","labelOverlap":false,"grid":false}},"x2":{"datum":384}}},
{"data":{"name":"pres"},"transform":[{"filter":"datum.s!='M'&&datum.s!='C'&&datum.s!='G'"}],
"mark":{"type":"line","strokeWidth":0.8},
"encoding":{
"x":{"field":"h","type":"quantitative","scale":{"domain":[0,384],"nice":false,"zero":false},"axis":{"values":[12,36,60,84,108,132,156,180,204,228,252,276,300,324,348,372],"labelExpr":"utcFormat(utc(2016,9,24,12)+datum.value*3600000,'%d/%m')","labelOverlap":false,"grid":false}},
"y":{"field":"p","type":"quantitative","scale":{"domain":[957.3,1043.2],"nice":false,"zero":false},"axis":null},
"color":{"field":"s","type":"nominal","scale":{"domain":["01","02","03","04","05","06","07","08","09","10","11","12","13","14","15","16","17","18","19","20"],"range":["#2f8fa0","#c8c800","#008800","#ff8c00","#00ee77","#990099","#33dd99","#ff00ff","#88ff88","#3399ff","#7777ff","#99ff66","#9999ff","#ddaa44","#aabb33","#339999","#666699","#998899","#cccccc","#999999"]},
"legend":{"orient":"none","legendX":226,"legendY":349,"direction":"horizontal","columns":20,"title":null,"symbolType":"square","symbolSize":30,"symbolStrokeWidth":0,"labelExpr":"''","labelFontSize":1,"labelOffset":0,"columnPadding":0.6,"rowPadding":0,"padding":0,"symbolOffset":0,
"encode":{"symbols":{"update":{"fill":{"scale":"color","field":"value"},"fillOpacity":{"value":1},"opacity":{"value":1}}}}}}
}},
{"data":{"name":"pres"},"transform":[{"filter":"datum.s=='C'"}],"mark":{"type":"line","color":"#0000ff","strokeWidth":2},"encoding":{"x":{"field":"h","type":"quantitative","scale":{"domain":[0,384],"nice":false,"zero":false},"axis":{"values":[12,36,60,84,108,132,156,180,204,228,252,276,300,324,348,372],"labelExpr":"utcFormat(utc(2016,9,24,12)+datum.value*3600000,'%d/%m')","labelOverlap":false,"grid":false}},"y":{"field":"p","type":"quantitative","scale":{"domain":[957.3,1043.2],"nice":false,"zero":false},"axis":null}}},
{"data":{"name":"pres"},"transform":[{"filter":"datum.s=='G'"}],"mark":{"type":"line","color":"#000044","strokeWidth":2},"encoding":{"x":{"field":"h","type":"quantitative","scale":{"domain":[0,384],"nice":false,"zero":false},"axis":{"values":[12,36,60,84,108,132,156,180,204,228,252,276,300,324,348,372],"labelExpr":"utcFormat(utc(2016,9,24,12)+datum.value*3600000,'%d/%m')","labelOverlap":false,"grid":false}},"y":{"field":"p","type":"quantitative","scale":{"domain":[957.3,1043.2],"nice":false,"zero":false},"axis":null}}},
{"data":{"name":"pres"},"transform":[{"filter":"datum.s=='M'"}],"mark":{"type":"line","color":"#ff0000","strokeWidth":2.8},"encoding":{"x":{"field":"h","type":"quantitative","scale":{"domain":[0,384],"nice":false,"zero":false},"axis":{"values":[12,36,60,84,108,132,156,180,204,228,252,276,300,324,348,372],"labelExpr":"utcFormat(utc(2016,9,24,12)+datum.value*3600000,'%d/%m')","labelOverlap":false,"grid":false}},"y":{"field":"p","type":"quantitative","scale":{"domain":[957.3,1043.2],"nice":false,"zero":false},"axis":null}}},
{"data":{"name":"prec"},"transform":[{"filter":"datum.s!='M'&&datum.s!='C'&&datum.s!='G'"}],
"mark":{"type":"line","strokeWidth":0.8},
"encoding":{
"x":{"field":"h","type":"quantitative","scale":{"domain":[0,384],"nice":false,"zero":false},"axis":{"values":[12,36,60,84,108,132,156,180,204,228,252,276,300,324,348,372],"labelExpr":"utcFormat(utc(2016,9,24,12)+datum.value*3600000,'%d/%m')","labelOverlap":false,"grid":false}},
"y":{"field":"r","type":"quantitative","scale":{"domain":[-7.7,78.2],"nice":false,"zero":false},
"axis":{"orient":"right","format":"d","values":[0,5,10,15,20,25,30,35,40,45,50,55,60,65,70,75],"grid":false,"labelOverlap":false}},
"color":{"field":"s","type":"nominal","legend":{"orient":"none","legendX":226,"legendY":349,"direction":"horizontal","columns":20,"title":null,"symbolType":"square","symbolSize":30,"symbolStrokeWidth":0,"labelExpr":"''","labelFontSize":1,"labelOffset":0,"columnPadding":0.6,"rowPadding":0,"padding":0,"symbolOffset":0,
"encode":{"symbols":{"update":{"fill":{"scale":"color","field":"value"},"fillOpacity":{"value":1},"opacity":{"value":1}}}}}}
}},
{"data":{"name":"prec"},"transform":[{"filter":"datum.s=='C'"}],"mark":{"type":"line","color":"#0000ff","strokeWidth":2},"encoding":{"x":{"field":"h","type":"quantitative","scale":{"domain":[0,384],"nice":false,"zero":false},"axis":{"values":[12,36,60,84,108,132,156,180,204,228,252,276,300,324,348,372],"labelExpr":"utcFormat(utc(2016,9,24,12)+datum.value*3600000,'%d/%m')","labelOverlap":false,"grid":false}},"y":{"field":"r","type":"quantitative","scale":{"domain":[-7.7,78.2],"nice":false,"zero":false},"axis":null}}},
{"data":{"name":"prec"},"transform":[{"filter":"datum.s=='G'"}],"mark":{"type":"line","color":"#000044","strokeWidth":2},"encoding":{"x":{"field":"h","type":"quantitative","scale":{"domain":[0,384],"nice":false,"zero":false},"axis":{"values":[12,36,60,84,108,132,156,180,204,228,252,276,300,324,348,372],"labelExpr":"utcFormat(utc(2016,9,24,12)+datum.value*3600000,'%d/%m')","labelOverlap":false,"grid":false}},"y":{"field":"r","type":"quantitative","scale":{"domain":[-7.7,78.2],"nice":false,"zero":false},"axis":null}}},
{"data":{"name":"prec"},"transform":[{"filter":"datum.s=='M'"}],"mark":{"type":"line","color":"#ff0000","strokeWidth":2.8},"encoding":{"x":{"field":"h","type":"quantitative","scale":{"domain":[0,384],"nice":false,"zero":false},"axis":{"values":[12,36,60,84,108,132,156,180,204,228,252,276,300,324,348,372],"labelExpr":"utcFormat(utc(2016,9,24,12)+datum.value*3600000,'%d/%m')","labelOverlap":false,"grid":false}},"y":{"field":"r","type":"quantitative","scale":{"domain":[-7.7,78.2],"nice":false,"zero":false},"axis":null}}},
{"data":{"values":[{}]},"mark":{"type":"rect","fill":"white","stroke":"#000","strokeWidth":1},"encoding":{"x":{"datum":-17.8,"type":"quantitative","scale":{"domain":[0,384],"nice":false,"zero":false},"axis":{"values":[12,36,60,84,108,132,156,180,204,228,252,276,300,324,348,372],"labelExpr":"utcFormat(utc(2016,9,24,12)+datum.value*3600000,'%d/%m')","labelOverlap":false,"grid":false}},"x2":{"datum":231.9},"y":{"datum":947.8,"type":"quantitative","scale":{"domain":[957.3,1043.2],"nice":false,"zero":false},"axis":null},"y2":{"datum":942.0}}},
{"data":{"values":[{}]},"mark":{"type":"rule","color":"#ff2020","strokeWidth":3},"encoding":{"x":{"datum":-8.9,"type":"quantitative","scale":{"domain":[0,384],"nice":false,"zero":false},"axis":{"values":[12,36,60,84,108,132,156,180,204,228,252,276,300,324,348,372],"labelExpr":"utcFormat(utc(2016,9,24,12)+datum.value*3600000,'%d/%m')","labelOverlap":false,"grid":false}},"x2":{"datum":8.9},"y":{"datum":950.6,"type":"quantitative","scale":{"domain":[957.3,1043.2],"nice":false,"zero":false},"axis":null}}},
{"data":{"values":[{}]},"mark":{"type":"rule","color":"#0000ff","strokeWidth":3},"encoding":{"x":{"datum":105.4,"type":"quantitative","scale":{"domain":[0,384],"nice":false,"zero":false},"axis":{"values":[12,36,60,84,108,132,156,180,204,228,252,276,300,324,348,372],"labelExpr":"utcFormat(utc(2016,9,24,12)+datum.value*3600000,'%d/%m')","labelOverlap":false,"grid":false}},"x2":{"datum":127.6},"y":{"datum":952.2,"type":"quantitative","scale":{"domain":[957.3,1043.2],"nice":false,"zero":false},"axis":null}}},
{"data":{"values":[{}]},"mark":{"type":"rule","color":"#000044","strokeWidth":3},"encoding":{"x":{"datum":105.4,"type":"quantitative","scale":{"domain":[0,384],"nice":false,"zero":false},"axis":{"values":[12,36,60,84,108,132,156,180,204,228,252,276,300,324,348,372],"labelExpr":"utcFormat(utc(2016,9,24,12)+datum.value*3600000,'%d/%m')","labelOverlap":false,"grid":false}},"x2":{"datum":127.6},"y":{"datum":950.6,"type":"quantitative","scale":{"domain":[957.3,1043.2],"nice":false,"zero":false},"axis":null}}},
{"data":{"values":[{}]},"mark":{"type":"text","align":"left","baseline":"middle","fontSize":6,"color":"#222"},"encoding":{"x":{"datum":-18.9,"type":"quantitative","scale":{"domain":[0,384],"nice":false,"zero":false},"axis":{"values":[12,36,60,84,108,132,156,180,204,228,252,276,300,324,348,372],"labelExpr":"utcFormat(utc(2016,9,24,12)+datum.value*3600000,'%d/%m')","labelOverlap":false,"grid":false}},"y":{"datum":956.2,"type":"quantitative","scale":{"domain":[957.3,1043.2],"nice":false,"zero":false},"axis":null},"text":{"value":"(hPa)"}}},
{"data":{"values":[{}]},"mark":{"type":"text","align":"left","baseline":"middle","fontSize":6,"color":"#222"},"encoding":{"x":{"datum":397.3,"type":"quantitative","scale":{"domain":[0,384],"nice":false,"zero":false},"axis":{"values":[12,36,60,84,108,132,156,180,204,228,252,276,300,324,348,372],"labelExpr":"utcFormat(utc(2016,9,24,12)+datum.value*3600000,'%d/%m')","labelOverlap":false,"grid":false}},"y":{"datum":956.2,"type":"quantitative","scale":{"domain":[957.3,1043.2],"nice":false,"zero":false},"axis":null},"text":{"value":"(mm)"}}},
{"data":{"values":[{}]},"mark":{"type":"text","align":"left","baseline":"middle","fontSize":6,"color":"#222"},"encoding":{"x":{"datum":14.4,"type":"quantitative","scale":{"domain":[0,384],"nice":false,"zero":false},"axis":{"values":[12,36,60,84,108,132,156,180,204,228,252,276,300,324,348,372],"labelExpr":"utcFormat(utc(2016,9,24,12)+datum.value*3600000,'%d/%m')","labelOverlap":false,"grid":false}},"y":{"datum":950.5,"type":"quantitative","scale":{"domain":[957.3,1043.2],"nice":false,"zero":false},"axis":null},"text":{"value":"Moyenne des scénarios"}}},
{"data":{"values":[{}]},"mark":{"type":"text","align":"left","baseline":"middle","fontSize":6,"color":"#222"},"encoding":{"x":{"datum":129.8,"type":"quantitative","scale":{"domain":[0,384],"nice":false,"zero":false},"axis":{"values":[12,36,60,84,108,132,156,180,204,228,252,276,300,324,348,372],"labelExpr":"utcFormat(utc(2016,9,24,12)+datum.value*3600000,'%d/%m')","labelOverlap":false,"grid":false}},"y":{"datum":952.1,"type":"quantitative","scale":{"domain":[957.3,1043.2],"nice":false,"zero":false},"axis":null},"text":{"value":"Run de contrôle"}}},
{"data":{"values":[{}]},"mark":{"type":"text","align":"left","baseline":"middle","fontSize":6,"color":"#222"},"encoding":{"x":{"datum":129.8,"type":"quantitative","scale":{"domain":[0,384],"nice":false,"zero":false},"axis":{"values":[12,36,60,84,108,132,156,180,204,228,252,276,300,324,348,372],"labelExpr":"utcFormat(utc(2016,9,24,12)+datum.value*3600000,'%d/%m')","labelOverlap":false,"grid":false}},"y":{"datum":950.5,"type":"quantitative","scale":{"domain":[957.3,1043.2],"nice":false,"zero":false},"axis":null},"text":{"value":"Run GFS"}}},
{"data":{"values":[{}]},"mark":{"type":"text","align":"left","baseline":"middle","fontSize":6,"color":"#222"},"encoding":{"x":{"datum":77.7,"type":"quantitative","scale":{"domain":[0,384],"nice":false,"zero":false},"axis":{"values":[12,36,60,84,108,132,156,180,204,228,252,276,300,324,348,372],"labelExpr":"utcFormat(utc(2016,9,24,12)+datum.value*3600000,'%d/%m')","labelOverlap":false,"grid":false}},"y":{"datum":948.4,"type":"quantitative","scale":{"domain":[957.3,1043.2],"nice":false,"zero":false},"axis":null},"text":{"value":"Altitude du modele : 517m"}}},
{"data":{"values":[{}]},"mark":{"type":"text","align":"left","baseline":"middle","fontSize":6,"color":"#222"},"encoding":{"x":{"datum":192.0,"type":"quantitative","scale":{"domain":[0,384],"nice":false,"zero":false},"axis":{"values":[12,36,60,84,108,132,156,180,204,228,252,276,300,324,348,372],"labelExpr":"utcFormat(utc(2016,9,24,12)+datum.value*3600000,'%d/%m')","labelOverlap":false,"grid":false}},"y":{"datum":949.9,"type":"quantitative","scale":{"domain":[957.3,1043.2],"nice":false,"zero":false},"axis":null},"text":{"value":"20 Perturbations"}}},
{"data":{"values":[{}]},"mark":{"type":"text","align":"left","baseline":"middle","fontSize":3.4,"font":"DejaVu Sans Mono","color":"#222"},"encoding":{"x":{"datum":250.8,"type":"quantitative","scale":{"domain":[0,384],"nice":false,"zero":false},"axis":{"values":[12,36,60,84,108,132,156,180,204,228,252,276,300,324,348,372],"labelExpr":"utcFormat(utc(2016,9,24,12)+datum.value*3600000,'%d/%m')","labelOverlap":false,"grid":false}},"y":{"datum":951.2,"type":"quantitative","scale":{"domain":[957.3,1043.2],"nice":false,"zero":false},"axis":null},"text":{"value":"01 02 03 04 05 06 07 08 09 10 11 12 13 14 15 16 17 18 19 20"}}},
{"data":{"values":[{}]},"mark":{"type":"text","align":"left","baseline":"middle","fontSize":6.8,"fontWeight":"bold","color":"#111"},"encoding":{"x":{"datum":-12.2,"type":"quantitative","scale":{"domain":[0,384],"nice":false,"zero":false},"axis":{"values":[12,36,60,84,108,132,156,180,204,228,252,276,300,324,348,372],"labelExpr":"utcFormat(utc(2016,9,24,12)+datum.value*3600000,'%d/%m')","labelOverlap":false,"grid":false}},"y":{"datum":946.4,"type":"quantitative","scale":{"domain":[957.3,1043.2],"nice":false,"zero":false},"axis":null},"text":{"value":"Diagramme des ensembles GEFS sur 384h : 43.2N 12.8E"}}},
{"data":{"values":[{}]},"mark":{"type":"text","align":"left","baseline":"middle","fontSize":6,"color":"#222"},"encoding":{"x":{"datum":-12.2,"type":"quantitative","scale":{"domain":[0,384],"nice":false,"zero":false},"axis":{"values":[12,36,60,84,108,132,156,180,204,228,252,276,300,324,348,372],"labelExpr":"utcFormat(utc(2016,9,24,12)+datum.value*3600000,'%d/%m')","labelOverlap":false,"grid":false}},"y":{"datum":944.2,"type":"quantitative","scale":{"domain":[957.3,1043.2],"nice":false,"zero":false},"axis":null},"text":{"value":"Pression au niveau de la mer (hPa) , précipitations (mm)"}}},
{"data":{"values":[{}]},"mark":{"type":"text","align":"left","baseline":"middle","fontSize":5.8,"color":"#222"},"encoding":{"x":{"datum":239.7,"type":"quantitative","scale":{"domain":[0,384],"nice":false,"zero":false},"axis":{"values":[12,36,60,84,108,132,156,180,204,228,252,276,300,324,348,372],"labelExpr":"utcFormat(utc(2016,9,24,12)+datum.value*3600000,'%d/%m')","labelOverlap":false,"grid":false}},"y":{"datum":947.4,"type":"quantitative","scale":{"domain":[957.3,1043.2],"nice":false,"zero":false},"axis":null},"text":{"value":"Ensemble GEFS du 24/10/2016 - 12Z"}}},
{"data":{"values":[{}]},"mark":{"type":"text","align":"left","baseline":"middle","fontSize":6,"fontWeight":"bold","color":"#111"},"encoding":{"x":{"datum":239.7,"type":"quantitative","scale":{"domain":[0,384],"nice":false,"zero":false},"axis":{"values":[12,36,60,84,108,132,156,180,204,228,252,276,300,324,348,372],"labelExpr":"utcFormat(utc(2016,9,24,12)+datum.value*3600000,'%d/%m')","labelOverlap":false,"grid":false}},"y":{"datum":944.7,"type":"quantitative","scale":{"domain":[957.3,1043.2],"nice":false,"zero":false},"axis":null},"text":{"value":"Copyright 2016 Meteociel.fr"}}},
{"data":{"values":[{}]},"mark":{"type":"text","align":"left","baseline":"middle","fontSize":6,"color":"#222"},"encoding":{"x":{"datum":5.5,"type":"quantitative","scale":{"domain":[0,384],"nice":false,"zero":false},"axis":{"values":[12,36,60,84,108,132,156,180,204,228,252,276,300,324,348,372],"labelExpr":"utcFormat(utc(2016,9,24,12)+datum.value*3600000,'%d/%m')","labelOverlap":false,"grid":false}},"y":{"datum":1024.9,"type":"quantitative","scale":{"domain":[957.3,1043.2],"nice":false,"zero":false},"axis":null},"text":{"value":"Pression"}}},
{"data":{"values":[{}]},"mark":{"type":"text","align":"left","baseline":"middle","fontSize":6,"color":"#222"},"encoding":{"x":{"datum":5.5,"type":"quantitative","scale":{"domain":[0,384],"nice":false,"zero":false},"axis":{"values":[12,36,60,84,108,132,156,180,204,228,252,276,300,324,348,372],"labelExpr":"utcFormat(utc(2016,9,24,12)+datum.value*3600000,'%d/%m')","labelOverlap":false,"grid":false}},"y":{"datum":977.5,"type":"quantitative","scale":{"domain":[957.3,1043.2],"nice":false,"zero":false},"axis":null},"text":{"value":"Précipitations"}}}
],
"resolve":{"scale":{"y":"independent"},"axis":{"y":"independent"}}
}
